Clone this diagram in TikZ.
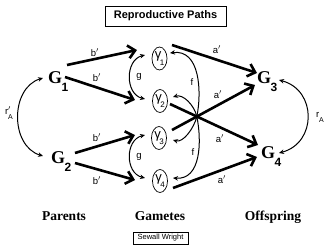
\documentclass[tikz,border=0pt]{standalone}
\usepackage{fontspec}
\setmainfont{Liberation Serif}
\setsansfont{Liberation Sans}
\usetikzlibrary{arrows.meta,shapes.geometric,intersections}
\newcommand\Gsym[1]{{\bfseries\fontsize{18}{18}\selectfont G}\kern-0.5pt\raisebox{-8pt}{\sffamily\bfseries\fontsize{12}{12}\selectfont #1}}
\newcommand\gsym[1]{{\sffamily\fontsize{13}{13}\selectfont γ\kern-1.5pt\raisebox{-6.5pt}{\fontsize{8}{8}\selectfont #1}}}
\begin{document}
\begin{tikzpicture}[x=1pt,y=-1pt,
 thickarr/.style={line width=2.6pt,-{Straight Barb[length=7pt,width=13pt]}},
 thinarr/.style={line width=1pt,-{Stealth[length=5pt,width=4.5pt]}},
 dblarr/.style={line width=1pt,{Stealth[length=5pt,width=4.5pt]}-{Stealth[length=5pt,width=4.5pt]}},
 gell/.style={ellipse,draw,line width=0.7pt,minimum width=15pt,minimum height=23pt,inner sep=0pt},
 Gn/.style={anchor=base west,inner sep=0pt},
 lab/.style={font=\sffamily\fontsize{9.5}{9.5}\selectfont,inner sep=0pt},
 capt/.style={font=\bfseries\fontsize{13.5}{13.5}\selectfont,anchor=base,inner sep=0pt}
]
\useasboundingbox (0,0) rectangle (330,252);
\fill[white] (0,0) rectangle (330,252);

\node[draw,line width=0.8pt,minimum width=121pt,minimum height=20pt,inner sep=0pt,font=\sffamily\bfseries\fontsize{11}{11}\selectfont] (title) at (165.5,16) {Reproductive Paths};

\node[Gn] (G1) at (48,83) {\Gsym{1}};
\node[Gn] (G2) at (51,163) {\Gsym{2}};
\node[Gn] (G3) at (257,83) {\Gsym{3}};
\node[Gn] (G4) at (261,158) {\Gsym{4}};

\node[gell] (g1) at (159.5,58.5) {\gsym{1}};
\node[gell] (g2) at (160,101) {\gsym{2}};
\node[gell] (g3) at (159,138) {\gsym{3}};
\node[gell] (g4) at (160,181) {\gsym{4}};

% b' paths
\draw[thickarr] ([shift={(19,-18)}]G1.base west) -- ([shift={(-22.5,-8.5)}]g1.center);
\draw[thickarr] ([shift={(17,-6)}]G1.base west) -- ([shift={(-25,-1)}]g2.center);
\draw[thickarr] ([shift={(24,-10)}]G2.base west) -- ([shift={(-24,-3)}]g3.center);
\draw[thickarr] ([shift={(24,0)}]G2.base west) -- ([shift={(-25,-1)}]g4.center);

% a' paths
\draw[thickarr] ([shift={(12.5,-13.5)}]g1.center) -- ([shift={(0,-10)}]G3.base west);
\draw[thickarr,name path=lA] ([shift={(10,3)}]g2.center) -- ([shift={(-3,-13)}]G4.base west);
\draw[thickarr,name path=lB] ([shift={(13,-8)}]g3.center) -- ([shift={(-2,2)}]G3.base west);
\draw[thickarr] ([shift={(13,7)}]g4.center) -- ([shift={(-4,-1)}]G4.base west);
\path[name intersections={of=lA and lB,by=X}];

% f paths
\draw[thinarr] (X) .. controls +(5,-25) and +(30,-4) .. ([shift={(10.5,-5.5)}]g1.center);
\draw[thinarr] (X) .. controls +(-3,-12) and +(10,-3) .. ([shift={(13,-4)}]g2.center);
\draw[thinarr] (X) .. controls +(-3,12) and +(10,3) .. ([shift={(14,2)}]g3.center);
\draw[thinarr] (X) .. controls +(5,25) and +(28,2) .. ([shift={(13,-3)}]g4.center);

% g paths
\draw[dblarr] ([shift={(-14.5,-3.5)}]g1.center) .. controls +(-20,5) and +(-20,-5) .. ([shift={(-15,-2)}]g2.center);
\draw[dblarr] ([shift={(-14,-3)}]g3.center) .. controls +(-20,5) and +(-20,-5) .. ([shift={(-15,-3)}]g4.center);

% r paths
\draw[dblarr] ([shift={(-5,-5)}]G1.base west) .. controls +(-33,10) and +(-33,-10) .. ([shift={(-8,-7)}]G2.base west);
\draw[dblarr] ([shift={(22,-3)}]G3.base west) .. controls +(38,10) and +(38,-10) .. ([shift={(18,-5)}]G4.base west);

% labels
\node[lab] (b1) at (95,53) {b$'$};
\node[lab] (b2) at (97,78) {b$'$};
\node[lab] (b3) at (97,138) {b$'$};
\node[lab] (b4) at (97,181) {b$'$};
\node[lab] (a1) at (217,50) {a$'$};
\node[lab] (a2) at (218,95) {a$'$};
\node[lab] (a3) at (220,139) {a$'$};
\node[lab] (a4) at (222,180) {a$'$};
\node[lab] (f1) at (192,82) {f};
\node[lab] (f2) at (193,152) {f};
\node[lab] (gl1) at (139,77) {g};
\node[lab] (gl2) at (139,157) {g};
\node[lab] (rl) at (9,113) {r\rlap{$'$}\raisebox{-5pt}{\fontsize{7}{7}\selectfont A}};
\node[lab] (rr) at (320,117) {r\raisebox{-5pt}{\fontsize{7}{7}\selectfont A}};

\node[capt] (par) at (64,220) {Parents};
\node[capt] (gam) at (160,220) {Gametes};
\node[capt] (off) at (273,220) {Offspring};

\node[draw,line width=0.6pt,minimum width=55pt,minimum height=12pt,inner sep=0pt,font=\sffamily\fontsize{7.5}{7.5}\selectfont] (sw) at (160.5,238) {Sewall Wright};
\end{tikzpicture}
\end{document}
